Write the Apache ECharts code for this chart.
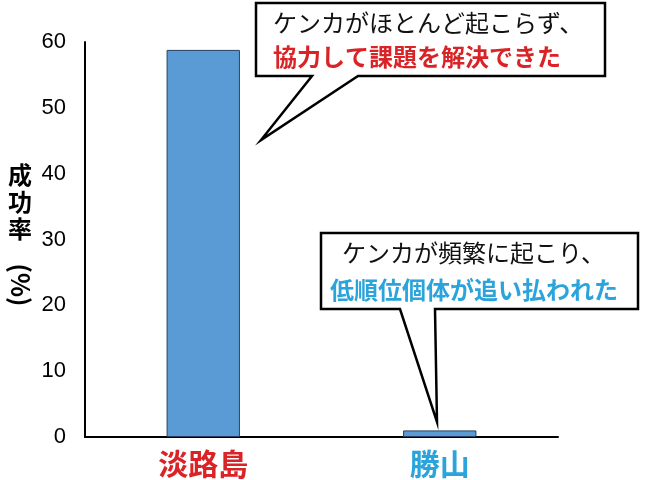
<!DOCTYPE html>
<html lang="ja">
<head>
    <meta charset="UTF-8">
    <title>成功率</title>
    <script src="https://cdn.jsdelivr.net/npm/echarts@6/dist/echarts.min.js"></script>
    <style>
        html, body { margin: 0; padding: 0; background: #fff; }
        #main { width: 650px; height: 480px; }
    </style>
</head>
<body>
    <div id="main"></div>
    <script type="text/javascript">
        // データ
        var categories = ['淡路島', '勝山'];
        var successRate = [58.8, 1.0];
        var yTicks = [0, 10, 20, 30, 40, 50, 60];
        var calloutTop = ['ケンカがほとんど起こらず、', '協力して課題を解決できた'];
        var calloutBottom = ['ケンカが頻繁に起こり、', '低順位個体が追い払われた'];

        var JP = '"Noto Sans CJK JP", sans-serif';
        var labelColors = ['#d92326', '#2ba3db'];

        var myChart = echarts.init(document.getElementById('main'));

        function textEl(str, x, y, size, weight, color) {
            return {
                type: 'text',
                x: x, y: y,
                style: {
                    text: str,
                    x: 0, y: 0,
                    fill: color,
                    font: weight + ' ' + size + 'px ' + JP,
                    align: 'left', textAlign: 'left',
                    verticalAlign: 'middle', textVerticalAlign: 'middle'
                },
                z: 10
            };
        }

        var option = {
            animation: false,
            grid: { left: 85, right: 92, top: 42, bottom: 43 },
            xAxis: {
                type: 'category',
                data: categories.map(function (c, i) {
                    return { value: c, textStyle: { color: labelColors[i] } };
                }),
                axisLine: { lineStyle: { color: '#000', width: 2 } },
                axisTick: { show: false },
                axisLabel: {
                    margin: 12,
                    fontSize: 30,
                    fontWeight: 'bold',
                    fontFamily: JP
                }
            },
            yAxis: {
                type: 'value',
                min: yTicks[0],
                max: yTicks[yTicks.length - 1],
                interval: 10,
                splitLine: { show: false },
                axisTick: { show: false },
                axisLine: { show: true, lineStyle: { color: '#000', width: 2 } },
                axisLabel: {
                    margin: 19,
                    color: '#000',
                    fontSize: 22,
                    fontFamily: '"Liberation Sans Narrow", "Liberation Sans", Arial, sans-serif'
                }
            },
            series: [{
                type: 'bar',
                data: successRate,
                barWidth: '31%',
                itemStyle: {
                    color: '#5b9bd5',
                    borderColor: '#24405e',
                    borderWidth: 1
                }
            }],
            graphic: [
                // 軸タイトル
                {
                    type: 'text',
                    x: 20, y: 202,
                    style: {
                        text: '成\n功\n率',
                        x: 0, y: 0,
                        fill: '#000',
                        font: 'bold 24px ' + JP,
                        lineHeight: 27,
                        align: 'center', textAlign: 'center',
                        verticalAlign: 'middle', textVerticalAlign: 'middle'
                    }
                },
                {
                    type: 'text',
                    x: 20, y: 285,
                    rotation: -Math.PI / 2,
                    style: {
                        text: '(%)',
                        x: 0, y: 0,
                        fill: '#000',
                        font: 'bold 25px ' + JP,
                        align: 'center', textAlign: 'center',
                        verticalAlign: 'middle', textVerticalAlign: 'middle'
                    }
                },
                // 吹き出し 上
                {
                    type: 'polygon',
                    shape: { points: [[256, 3], [605, 3], [605, 76], [358, 76], [261, 140], [312, 76], [256, 76]] },
                    style: { fill: '#fff', stroke: '#000', lineWidth: 2.5 },
                    z: 5
                },
                textEl(calloutTop[0], 273, 23, 24, 'normal', '#111'),
                textEl(calloutTop[1], 273, 57, 24, 'bold', '#d92326'),
                // 吹き出し 下
                {
                    type: 'polygon',
                    shape: { points: [[321, 233], [638, 233], [638, 309], [435, 309], [437, 422], [400, 309], [321, 309]] },
                    style: { fill: '#fff', stroke: '#000', lineWidth: 2.5 },
                    z: 5
                },
                textEl(calloutBottom[0], 342, 253, 24, 'normal', '#111'),
                textEl(calloutBottom[1], 330, 290, 24, 'bold', '#2ba3db')
            ]
        };
        myChart.setOption(option);
    </script>
</body>
</html>
